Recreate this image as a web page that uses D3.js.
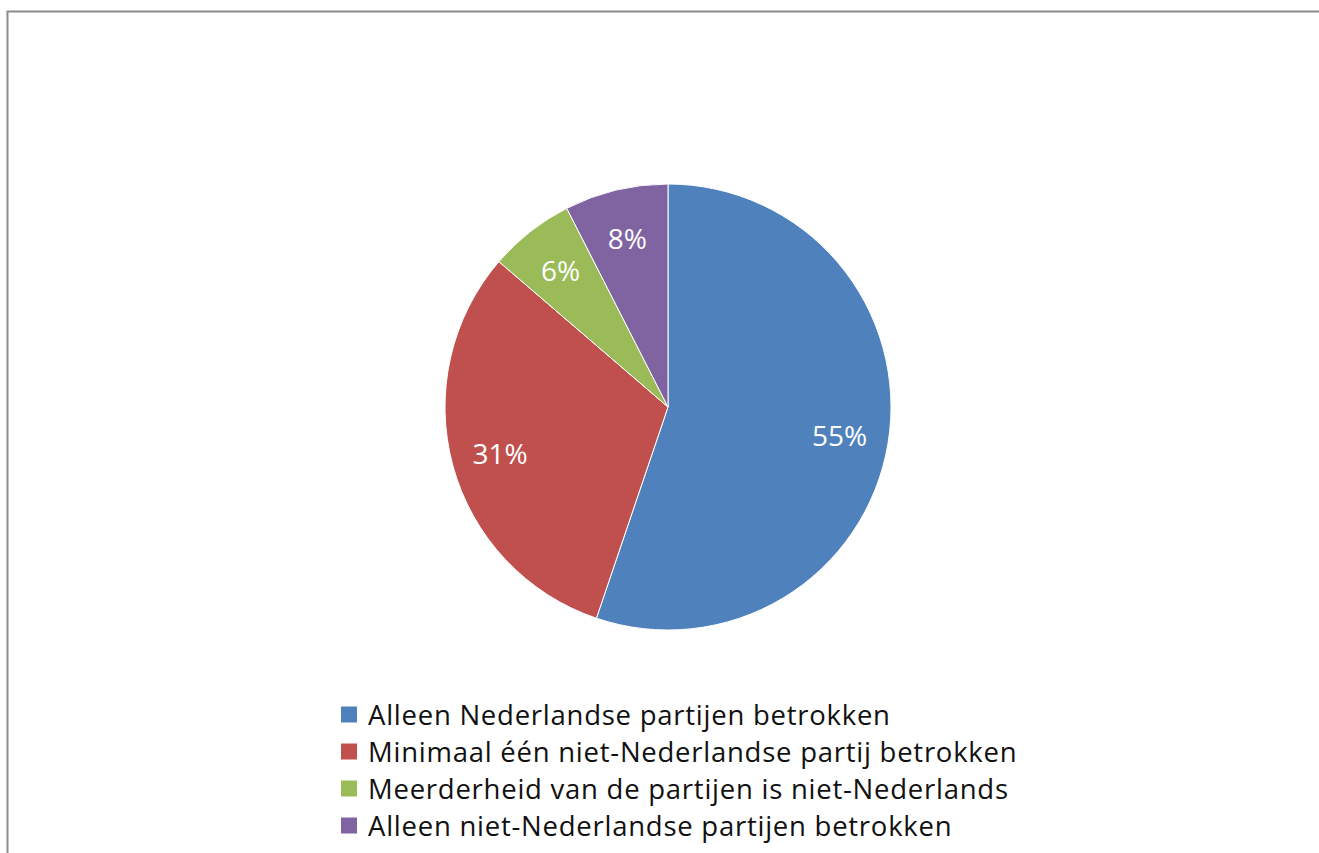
<!DOCTYPE html>
<html><head><meta charset="utf-8">
<script src="https://cdn.jsdelivr.net/npm/d3@7"></script>
<style>html,body{margin:0;padding:0;background:#fff;overflow:hidden}</style>
</head><body>
<svg id="c" width="1319" height="853"></svg>
<script>
const categories = [
  "Alleen Nederlandse partijen betrokken",
  "Minimaal één niet-Nederlandse partij betrokken",
  "Meerderheid van de partijen is niet-Nederlands",
  "Alleen niet-Nederlandse partijen betrokken"
];
const values = [55.2, 31.1, 6.2, 7.5];
const valueLabels = ["55%", "31%", "6%", "8%"];
const colors = ["#4F81BD", "#C0504D", "#9BBB59", "#8064A2"];

const svg = d3.select("#c");
const font = "'Open Sans', 'Noto Sans', sans-serif";

// frame
svg.append("path").attr("d", "M7.5,853 L7.5,11.5 L1319,11.5")
  .attr("fill", "none").attr("stroke", "#8c8c8c").attr("stroke-width", 2);

const cx = 668, cy = 407, R = 223;
const pie = d3.pie().sort(null).value(d => d);
const arcs = pie(values);
const arc = d3.arc().innerRadius(0).outerRadius(R);
const labelArc = d3.arc().innerRadius(174).outerRadius(174);

const g = svg.append("g").attr("transform", `translate(${cx},${cy})`);
g.selectAll("path.slice").data(arcs).join("path")
  .attr("class", "slice")
  .attr("d", arc)
  .attr("fill", (d, i) => colors[i])
  .attr("stroke", "#fff").attr("stroke-width", 1);

g.selectAll("text.lbl").data(arcs).join("text")
  .attr("class", "lbl")
  .attr("transform", d => `translate(${labelArc.centroid(d)})`)
  .attr("text-anchor", "middle")
  .attr("dominant-baseline", "central")
  .attr("font-family", font).attr("font-size", 28)
  .attr("fill", "#fff")
  .text((d, i) => valueLabels[i]);

// legend
const ly = d3.scaleBand().domain(d3.range(categories.length)).range([696, 844]);
const leg = svg.append("g");
const rows = leg.selectAll("g").data(categories).join("g")
  .attr("transform", (d, i) => `translate(0,${ly(i) + ly.bandwidth() / 2})`);
rows.append("rect").attr("x", 341).attr("y", -8).attr("width", 16).attr("height", 16)
  .attr("fill", (d, i) => colors[i]);
rows.append("text").attr("x", 368).attr("y", 0)
  .attr("dominant-baseline", "central")
  .attr("font-family", font).attr("font-size", 27.5)
  .attr("letter-spacing", 0.75)
  .attr("fill", "#111")
  .text(d => d);
</script>
</body></html>
